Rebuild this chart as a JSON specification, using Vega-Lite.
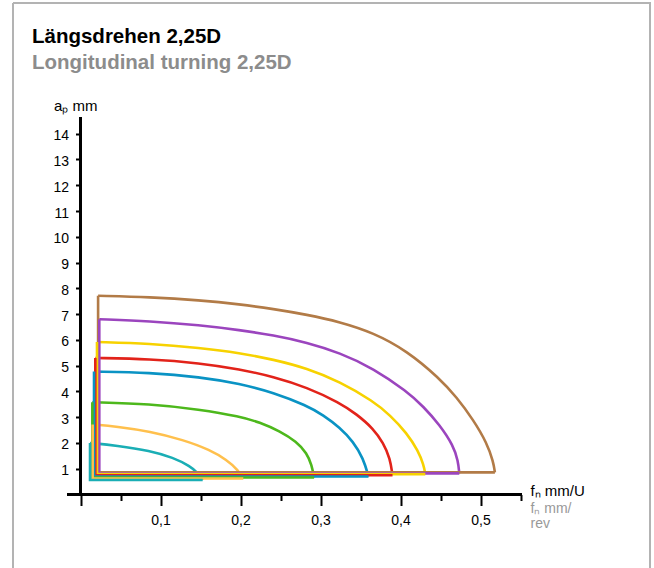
{
  "$schema": "https://vega.github.io/schema/vega-lite/v6.json",
  "width": 637,
  "height": 565,
  "autosize": "none",
  "padding": {"left": 13, "top": 3, "right": 4, "bottom": 0},
  "background": "white",
  "title": {
    "text": "Längsdrehen 2,25D",
    "subtitle": "Longitudinal turning 2,25D",
    "anchor": "start",
    "frame": "group",
    "font": "Liberation Sans",
    "fontSize": 20.5,
    "fontWeight": "bold",
    "color": "#000000",
    "subtitleFont": "Liberation Sans",
    "subtitleFontSize": 20.5,
    "subtitleFontWeight": "bold",
    "subtitleColor": "#8c8c8c",
    "subtitlePadding": 5,
    "dx": 19,
    "offset": -70
  },
  "config": {
    "font": "Liberation Sans",
    "view": {"stroke": "#b3b3b3", "strokeWidth": 2, "strokeDash": [1202, 637, 565, 0]},
    "axis": {"labelFont": "Liberation Sans", "titleFont": "Liberation Sans", "labelColor": "#000000", "titleColor": "#000000", "tickColor": "#000000"}
  },
  "data": {
    "values": [
      {"s": "s1", "p": "frame", "i": 0, "f": 0.518, "ap": 0.86},
      {"s": "s1", "p": "frame", "i": 1, "f": 0.022, "ap": 0.86},
      {"s": "s1", "p": "frame", "i": 2, "f": 0.022, "ap": 7.71},
      {"s": "s1", "p": "arc", "i": 0, "f": 0.022, "ap": 7.71},
      {"s": "s1", "p": "arc", "i": 1, "f": 0.087, "ap": 7.66},
      {"s": "s1", "p": "arc", "i": 2, "f": 0.149, "ap": 7.54},
      {"s": "s1", "p": "arc", "i": 3, "f": 0.1994, "ap": 7.38},
      {"s": "s1", "p": "arc", "i": 4, "f": 0.241, "ap": 7.2},
      {"s": "s1", "p": "arc", "i": 5, "f": 0.283, "ap": 6.98},
      {"s": "s1", "p": "arc", "i": 6, "f": 0.324, "ap": 6.7},
      {"s": "s1", "p": "arc", "i": 7, "f": 0.366, "ap": 6.28},
      {"s": "s1", "p": "arc", "i": 8, "f": 0.408, "ap": 5.58},
      {"s": "s1", "p": "arc", "i": 9, "f": 0.449, "ap": 4.5},
      {"s": "s1", "p": "arc", "i": 10, "f": 0.47, "ap": 3.78},
      {"s": "s1", "p": "arc", "i": 11, "f": 0.491, "ap": 2.9},
      {"s": "s1", "p": "arc", "i": 12, "f": 0.508, "ap": 2.0},
      {"s": "s1", "p": "arc", "i": 13, "f": 0.516, "ap": 1.27},
      {"s": "s1", "p": "arc", "i": 14, "f": 0.518, "ap": 0.86},

      {"s": "s2", "p": "frame", "i": 0, "f": 0.4735, "ap": 0.82},
      {"s": "s2", "p": "frame", "i": 1, "f": 0.0235, "ap": 0.82},
      {"s": "s2", "p": "frame", "i": 2, "f": 0.0235, "ap": 6.8},
      {"s": "s2", "p": "arc", "i": 0, "f": 0.0235, "ap": 6.8},
      {"s": "s2", "p": "arc", "i": 1, "f": 0.087, "ap": 6.73},
      {"s": "s2", "p": "arc", "i": 2, "f": 0.149, "ap": 6.57},
      {"s": "s2", "p": "arc", "i": 3, "f": 0.1994, "ap": 6.38},
      {"s": "s2", "p": "arc", "i": 4, "f": 0.241, "ap": 6.18},
      {"s": "s2", "p": "arc", "i": 5, "f": 0.283, "ap": 5.9},
      {"s": "s2", "p": "arc", "i": 6, "f": 0.324, "ap": 5.5},
      {"s": "s2", "p": "arc", "i": 7, "f": 0.366, "ap": 4.9},
      {"s": "s2", "p": "arc", "i": 8, "f": 0.408, "ap": 4.0},
      {"s": "s2", "p": "arc", "i": 9, "f": 0.4285, "ap": 3.42},
      {"s": "s2", "p": "arc", "i": 10, "f": 0.449, "ap": 2.7},
      {"s": "s2", "p": "arc", "i": 11, "f": 0.466, "ap": 1.9},
      {"s": "s2", "p": "arc", "i": 12, "f": 0.472, "ap": 1.3},
      {"s": "s2", "p": "arc", "i": 13, "f": 0.4735, "ap": 0.82},

      {"s": "s3", "p": "frame", "i": 0, "f": 0.431, "ap": 0.79},
      {"s": "s3", "p": "frame", "i": 1, "f": 0.0206, "ap": 0.79},
      {"s": "s3", "p": "frame", "i": 2, "f": 0.0206, "ap": 5.92},
      {"s": "s3", "p": "arc", "i": 0, "f": 0.0206, "ap": 5.92},
      {"s": "s3", "p": "arc", "i": 1, "f": 0.087, "ap": 5.86},
      {"s": "s3", "p": "arc", "i": 2, "f": 0.149, "ap": 5.69},
      {"s": "s3", "p": "arc", "i": 3, "f": 0.1994, "ap": 5.49},
      {"s": "s3", "p": "arc", "i": 4, "f": 0.241, "ap": 5.24},
      {"s": "s3", "p": "arc", "i": 5, "f": 0.283, "ap": 4.9},
      {"s": "s3", "p": "arc", "i": 6, "f": 0.324, "ap": 4.38},
      {"s": "s3", "p": "arc", "i": 7, "f": 0.366, "ap": 3.62},
      {"s": "s3", "p": "arc", "i": 8, "f": 0.387, "ap": 3.08},
      {"s": "s3", "p": "arc", "i": 9, "f": 0.408, "ap": 2.38},
      {"s": "s3", "p": "arc", "i": 10, "f": 0.422, "ap": 1.7},
      {"s": "s3", "p": "arc", "i": 11, "f": 0.429, "ap": 1.15},
      {"s": "s3", "p": "arc", "i": 12, "f": 0.431, "ap": 0.79},

      {"s": "s4", "p": "frame", "i": 0, "f": 0.39, "ap": 0.75},
      {"s": "s4", "p": "frame", "i": 1, "f": 0.0185, "ap": 0.75},
      {"s": "s4", "p": "frame", "i": 2, "f": 0.0185, "ap": 5.3},
      {"s": "s4", "p": "arc", "i": 0, "f": 0.0185, "ap": 5.3},
      {"s": "s4", "p": "arc", "i": 1, "f": 0.087, "ap": 5.26},
      {"s": "s4", "p": "arc", "i": 2, "f": 0.149, "ap": 5.1},
      {"s": "s4", "p": "arc", "i": 3, "f": 0.1994, "ap": 4.86},
      {"s": "s4", "p": "arc", "i": 4, "f": 0.241, "ap": 4.57},
      {"s": "s4", "p": "arc", "i": 5, "f": 0.283, "ap": 4.16},
      {"s": "s4", "p": "arc", "i": 6, "f": 0.324, "ap": 3.56},
      {"s": "s4", "p": "arc", "i": 7, "f": 0.345, "ap": 3.12},
      {"s": "s4", "p": "arc", "i": 8, "f": 0.366, "ap": 2.56},
      {"s": "s4", "p": "arc", "i": 9, "f": 0.3785, "ap": 2.0},
      {"s": "s4", "p": "arc", "i": 10, "f": 0.387, "ap": 1.4},
      {"s": "s4", "p": "arc", "i": 11, "f": 0.39, "ap": 0.75},

      {"s": "s5", "p": "frame", "i": 0, "f": 0.36, "ap": 0.7},
      {"s": "s5", "p": "frame", "i": 1, "f": 0.0169, "ap": 0.7},
      {"s": "s5", "p": "frame", "i": 2, "f": 0.0169, "ap": 4.77},
      {"s": "s5", "p": "arc", "i": 0, "f": 0.0169, "ap": 4.77},
      {"s": "s5", "p": "arc", "i": 1, "f": 0.087, "ap": 4.73},
      {"s": "s5", "p": "arc", "i": 2, "f": 0.149, "ap": 4.56},
      {"s": "s5", "p": "arc", "i": 3, "f": 0.1994, "ap": 4.3},
      {"s": "s5", "p": "arc", "i": 4, "f": 0.241, "ap": 3.96},
      {"s": "s5", "p": "arc", "i": 5, "f": 0.283, "ap": 3.45},
      {"s": "s5", "p": "arc", "i": 6, "f": 0.3035, "ap": 3.08},
      {"s": "s5", "p": "arc", "i": 7, "f": 0.324, "ap": 2.6},
      {"s": "s5", "p": "arc", "i": 8, "f": 0.341, "ap": 2.05},
      {"s": "s5", "p": "arc", "i": 9, "f": 0.3535, "ap": 1.4},
      {"s": "s5", "p": "arc", "i": 10, "f": 0.36, "ap": 0.7},

      {"s": "s6", "p": "frame", "i": 0, "f": 0.292, "ap": 0.66},
      {"s": "s6", "p": "frame", "i": 1, "f": 0.0148, "ap": 0.66},
      {"s": "s6", "p": "frame", "i": 2, "f": 0.0148, "ap": 3.58},
      {"s": "s6", "p": "arc", "i": 0, "f": 0.0148, "ap": 3.58},
      {"s": "s6", "p": "arc", "i": 1, "f": 0.087, "ap": 3.52},
      {"s": "s6", "p": "arc", "i": 2, "f": 0.149, "ap": 3.3},
      {"s": "s6", "p": "arc", "i": 3, "f": 0.1994, "ap": 3.03},
      {"s": "s6", "p": "arc", "i": 4, "f": 0.224, "ap": 2.8},
      {"s": "s6", "p": "arc", "i": 5, "f": 0.249, "ap": 2.46},
      {"s": "s6", "p": "arc", "i": 6, "f": 0.27, "ap": 2.05},
      {"s": "s6", "p": "arc", "i": 7, "f": 0.283, "ap": 1.6},
      {"s": "s6", "p": "arc", "i": 8, "f": 0.289, "ap": 1.14},
      {"s": "s6", "p": "arc", "i": 9, "f": 0.292, "ap": 0.66},

      {"s": "s7", "p": "frame", "i": 0, "f": 0.2035, "ap": 0.62},
      {"s": "s7", "p": "frame", "i": 1, "f": 0.0152, "ap": 0.62},
      {"s": "s7", "p": "frame", "i": 2, "f": 0.0152, "ap": 2.72},
      {"s": "s7", "p": "arc", "i": 0, "f": 0.0152, "ap": 2.72},
      {"s": "s7", "p": "arc", "i": 1, "f": 0.045, "ap": 2.64},
      {"s": "s7", "p": "arc", "i": 2, "f": 0.087, "ap": 2.45},
      {"s": "s7", "p": "arc", "i": 3, "f": 0.1285, "ap": 2.12},
      {"s": "s7", "p": "arc", "i": 4, "f": 0.162, "ap": 1.73},
      {"s": "s7", "p": "arc", "i": 5, "f": 0.183, "ap": 1.34},
      {"s": "s7", "p": "arc", "i": 6, "f": 0.197, "ap": 0.95},
      {"s": "s7", "p": "arc", "i": 7, "f": 0.2035, "ap": 0.62},

      {"s": "s8", "p": "frame", "i": 0, "f": 0.1527, "ap": 0.56},
      {"s": "s8", "p": "frame", "i": 1, "f": 0.0119, "ap": 0.56},
      {"s": "s8", "p": "frame", "i": 2, "f": 0.0119, "ap": 2.0},
      {"s": "s8", "p": "arc", "i": 0, "f": 0.0119, "ap": 2.0},
      {"s": "s8", "p": "arc", "i": 1, "f": 0.045, "ap": 1.9},
      {"s": "s8", "p": "arc", "i": 2, "f": 0.087, "ap": 1.7},
      {"s": "s8", "p": "arc", "i": 3, "f": 0.116, "ap": 1.43},
      {"s": "s8", "p": "arc", "i": 4, "f": 0.137, "ap": 1.1},
      {"s": "s8", "p": "arc", "i": 5, "f": 0.147, "ap": 0.83},
      {"s": "s8", "p": "arc", "i": 6, "f": 0.1527, "ap": 0.56}
    ]
  },
  "resolve": {"axis": {"x": "independent"}},
  "layer": [
    {
      "transform": [{"filter": "datum.p == 'arc'"}],
      "mark": {"type": "line", "interpolate": "basis", "strokeWidth": 2.6, "strokeCap": "butt", "strokeJoin": "miter"},
      "encoding": {
        "x": {"field": "f", "type": "quantitative",
          "scale": {"domain": [-0.084375, 0.711875], "nice": false, "zero": false},
          "axis": {"orient": "bottom", "values": [0, 0.1, 0.2, 0.3, 0.4, 0.5], "labelExpr": "datum.value == 0 ? '' : replace(format(datum.value, '.1f'), '.', ',')",
            "domain": false, "grid": false, "ticks": true, "tickSize": 11, "tickWidth": 2, "labelFontSize": 14, "labelPadding": 8,
            "labelFlush": false, "labelOverlap": false, "offset": -73.5,
            "title": "fₙ mm/U", "titleX": 517, "titleY": 1, "titleAlign": "left", "titleBaseline": "alphabetic",
            "titleFontWeight": "normal", "titleFontSize": 15}},
        "y": {"field": "ap", "type": "quantitative",
          "scale": {"domain": [-2.852, 19.073], "nice": false, "zero": false},
          "axis": {"values": [1, 2, 3, 4, 5, 6, 7, 8, 9, 10, 11, 12, 13, 14], "domain": false, "grid": false, "tickSize": 5, "tickWidth": 2,
            "labelFontSize": 14, "labelPadding": 7, "labelOffset": 2, "labelOverlap": false, "labelFlush": false, "offset": -67.5,
            "title": "aₚ mm", "titleAngle": 0, "titleX": -27, "titleY": 107.7, "titleAlign": "left", "titleBaseline": "alphabetic",
            "titleFontWeight": "normal", "titleFontSize": 15}},
        "color": {"field": "s", "type": "nominal", "legend": null,
          "scale": {"domain": ["s1", "s2", "s3", "s4", "s5", "s6", "s7", "s8"],
            "range": ["#b27b47", "#9b45be", "#f7d200", "#e2231a", "#0a93c4", "#4db81c", "#ffc04d", "#1aaeb5"]}},
        "order": {"field": "i", "type": "quantitative"}
      }
    },
    {
      "transform": [{"filter": "datum.p == 'frame'"}],
      "mark": {"type": "line", "strokeWidth": 2.6, "strokeCap": "butt", "strokeJoin": "miter"},
      "encoding": {
        "x": {"field": "f", "type": "quantitative",
          "scale": {"domain": [-0.084375, 0.711875], "nice": false, "zero": false}, "axis": null},
        "y": {"field": "ap", "type": "quantitative",
          "scale": {"domain": [-2.852, 19.073], "nice": false, "zero": false},
          "axis": {"values": [1, 2, 3, 4, 5, 6, 7, 8, 9, 10, 11, 12, 13, 14], "domain": false, "grid": false, "tickSize": 5, "tickWidth": 2,
            "labelFontSize": 14, "labelPadding": 7, "labelOffset": 2, "labelOverlap": false, "labelFlush": false, "offset": -67.5,
            "title": "aₚ mm", "titleAngle": 0, "titleX": -27, "titleY": 107.7, "titleAlign": "left", "titleBaseline": "alphabetic",
            "titleFontWeight": "normal", "titleFontSize": 15}},
        "color": {"field": "s", "type": "nominal", "legend": null},
        "order": {"field": "i", "type": "quantitative"}
      }
    },
    {
      "mark": {"type": "rule", "color": "#000000", "strokeWidth": 2.3, "strokeCap": "butt"},
      "encoding": {
        "x": {"datum": -0.016, "type": "quantitative",
          "scale": {"domain": [-0.084375, 0.711875], "nice": false, "zero": false},
          "axis": {"orient": "bottom", "values": [0.05, 0.15, 0.25, 0.35, 0.45, 0.55], "labels": false, "domain": false, "grid": false,
            "tickSize": 6, "tickWidth": 2, "offset": -73.5,
            "title": ["fₙ mm/", "rev"], "titleX": 517, "titleY": 18, "titleAlign": "left", "titleBaseline": "alphabetic",
            "titleFontWeight": "normal", "titleFontSize": 14, "titleColor": "#999999", "titleLineHeight": 14.5}},
        "x2": {"datum": 0.551},
        "y": {"datum": 0, "type": "quantitative",
          "scale": {"domain": [-2.852, 19.073], "nice": false, "zero": false},
          "axis": {"values": [1, 2, 3, 4, 5, 6, 7, 8, 9, 10, 11, 12, 13, 14], "domain": false, "grid": false, "tickSize": 5, "tickWidth": 2,
            "labelFontSize": 14, "labelPadding": 7, "labelOffset": 2, "labelOverlap": false, "labelFlush": false, "offset": -67.5,
            "title": "aₚ mm", "titleAngle": 0, "titleX": -27, "titleY": 107.7, "titleAlign": "left", "titleBaseline": "alphabetic",
            "titleFontWeight": "normal", "titleFontSize": 15}}
      }
    },
    {
      "mark": {"type": "rule", "color": "#000000", "strokeWidth": 2.3, "strokeCap": "butt"},
      "encoding": {
        "x": {"datum": 0, "type": "quantitative",
          "scale": {"domain": [-0.084375, 0.711875], "nice": false, "zero": false}, "axis": null},
        "y": {"datum": -0.05, "type": "quantitative",
          "scale": {"domain": [-2.852, 19.073], "nice": false, "zero": false},
          "axis": {"values": [1, 2, 3, 4, 5, 6, 7, 8, 9, 10, 11, 12, 13, 14], "domain": false, "grid": false, "tickSize": 5, "tickWidth": 2,
            "labelFontSize": 14, "labelPadding": 7, "labelOffset": 2, "labelOverlap": false, "labelFlush": false, "offset": -67.5,
            "title": "aₚ mm", "titleAngle": 0, "titleX": -27, "titleY": 107.7, "titleAlign": "left", "titleBaseline": "alphabetic",
            "titleFontWeight": "normal", "titleFontSize": 15}},
        "y2": {"datum": 14.65}
      }
    }
  ]
}
